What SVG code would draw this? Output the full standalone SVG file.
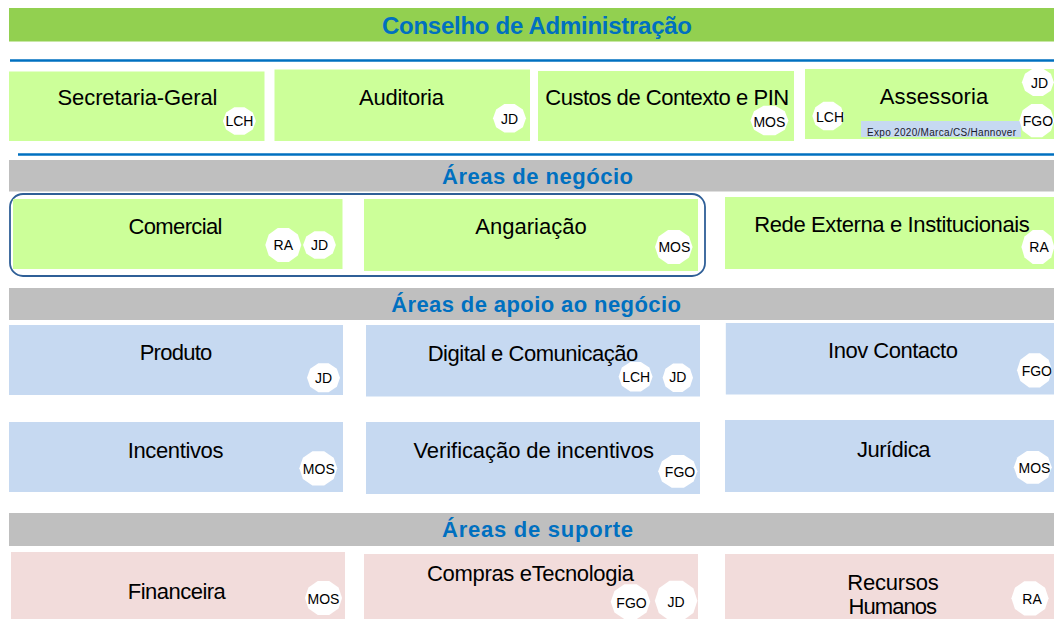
<svg xmlns="http://www.w3.org/2000/svg" xmlns:xlink="http://www.w3.org/1999/xlink" width="1054" height="619" viewBox="0 0 1054 619">
<style>
text{font-family:"Liberation Sans",Arial,sans-serif;text-anchor:middle;fill:#000}
.h{font-weight:bold;fill:#0070c0;font-size:22px}
.n{font-size:22px}
.b{font-size:14px}
.g{fill:#ccff99}.a{fill:#c6d9f1}.p{fill:#f2dcdb}.s{fill:#bfbfbf}
.l{stroke:#0070c0;stroke-width:2.500;fill:none}
</style>
<defs>
<polygon id="o" fill="#fff" points="1,0 .81,.59 .31,.95 -.31,.95 -.81,.59 -1,0 -.81,-.59 -.31,-.95 .31,-.95 .81,-.59"/>
</defs>
<rect width="1054" height="619" fill="#fff"/>
<g id="connectors">
<line class="l" x1="10" y1="60.500" x2="1054" y2="60.500"/>
<line class="l" x1="18" y1="154.500" x2="1054" y2="154.500"/>
</g>
<g id="conselho"><rect x="9" y="8" width="1045" height="33.500" fill="#92d050"/><text class="h" x="537" y="33.500" style="font-size:24px" textLength="310">Conselho de Administração</text></g>
<g id="secretaria"><rect class="g" x="9" y="71.500" width="255.500" height="69.500"/><text class="n" x="137.500" y="104.500" textLength="160">Secretaria-Geral</text><use xlink:href="#o" href="#o" transform="translate(239.400 121) scale(16.500 14.500)"/><text class="b" x="239.400" y="126">LCH</text></g>
<g id="auditoria"><rect class="g" x="274.500" y="69.500" width="255.500" height="71.500"/><text class="n" x="401.500" y="104.500" textLength="85">Auditoria</text><use xlink:href="#o" href="#o" transform="translate(509.500 118.300) scale(16.500 15)"/><text class="b" x="509.500" y="124">JD</text></g>
<g id="custos"><rect class="g" x="538" y="71" width="256" height="70"/><text class="n" x="667.200" y="104.500" textLength="244">Custos de Contexto e PIN</text><use xlink:href="#o" href="#o" transform="translate(769.400 120.500) scale(19 15.500)"/><text class="b" x="769.400" y="126.500">MOS</text></g>
<g id="assessoria"><rect class="g" x="805" y="69" width="249" height="70"/><rect class="a" x="861" y="121" width="160" height="16"/><text class="n" x="934" y="103.500" textLength="108.500">Assessoria</text><text x="941.500" y="136" style="font-size:10px;fill:#1a1a2a" textLength="149">Expo 2020/Marca/CS/Hannover</text><use xlink:href="#o" href="#o" transform="translate(1037.900 82.300) scale(16 14.500)"/><text class="b" x="1039.500" y="87.500">JD</text><use xlink:href="#o" href="#o" transform="translate(1036.800 120.500) scale(17.500 17.500)"/><text class="b" x="1037.900" y="126">FGO</text><use xlink:href="#o" href="#o" transform="translate(828.300 116) scale(16 15)"/><text class="b" x="830" y="122">LCH</text></g>
<g id="h-negocio"><rect class="s" x="9" y="160" width="1045" height="31.500"/><text class="h" x="537.500" y="183.500" textLength="191">Áreas de negócio</text></g>
<g id="grupo"><rect x="10" y="194" width="695" height="82" rx="13" fill="#fff" stroke="#2f5f97" stroke-width="1.800"/></g>
<g id="comercial"><rect class="g" x="13" y="199" width="329.500" height="70"/><text class="n" x="175.500" y="233.500" textLength="94">Comercial</text><use xlink:href="#o" href="#o" transform="translate(283.300 245) scale(18 18)"/><text class="b" x="283.300" y="250.300">RA</text><use xlink:href="#o" href="#o" transform="translate(319.500 245) scale(16.400 14.500)"/><text class="b" x="319.500" y="250.300">JD</text></g>
<g id="angariacao"><rect class="g" x="364" y="199" width="334" height="72"/><text class="n" x="531" y="233.500" textLength="111.500">Angariação</text><use xlink:href="#o" href="#o" transform="translate(673.800 247) scale(18.800 18)"/><text class="b" x="674.400" y="252.300">MOS</text></g>
<g id="rede"><rect class="g" x="725" y="197" width="329" height="72"/><text class="n" x="892" y="231.500" textLength="275.500">Rede Externa e Institucionais</text><use xlink:href="#o" href="#o" transform="translate(1037.900 247) scale(16.500 18)"/><text class="b" x="1039" y="252.300">RA</text></g>
<g id="h-apoio"><rect class="s" x="9" y="288" width="1045" height="32"/><text class="h" x="536" y="312" textLength="289.700">Áreas de apoio ao negócio</text></g>
<g id="produto"><rect class="a" x="9" y="325" width="334" height="70"/><text class="n" x="176" y="359.500" textLength="72.700">Produto</text><use xlink:href="#o" href="#o" transform="translate(323.500 377.700) scale(16.500 15.300)"/><text class="b" x="323.500" y="383">JD</text></g>
<g id="digital"><rect class="a" x="366" y="325" width="334" height="71.500"/><text class="n" x="533" y="360.500" textLength="210.700">Digital e Comunicação</text><use xlink:href="#o" href="#o" transform="translate(635.600 376.700) scale(17 15.500)"/><text class="b" x="636.200" y="382.300">LCH</text><use xlink:href="#o" href="#o" transform="translate(677.800 377.700) scale(15.200 15)"/><text class="b" x="677.800" y="382.300">JD</text></g>
<g id="inov"><rect class="a" x="725.800" y="323" width="328.200" height="71.500"/><text class="n" x="893" y="358" textLength="130">Inov Contacto</text><use xlink:href="#o" href="#o" transform="translate(1034.500 370.300) scale(17.500 18)"/><text class="b" x="1036.800" y="376">FGO</text></g>
<g id="incentivos"><rect class="a" x="9" y="422" width="334" height="70"/><text class="n" x="175.600" y="457.500" textLength="95.700">Incentivos</text><use xlink:href="#o" href="#o" transform="translate(318.300 468.300) scale(19 18)"/><text class="b" x="318.800" y="474">MOS</text></g>
<g id="verificacao"><rect class="a" x="366" y="422" width="334" height="72"/><text class="n" x="533.700" y="458" textLength="240.500">Verificação de incentivos</text><use xlink:href="#o" href="#o" transform="translate(677.800 471.300) scale(19.600 17.200)"/><text class="b" x="680" y="477.300">FGO</text></g>
<g id="juridica"><rect class="a" x="725" y="420" width="329" height="72"/><text class="n" x="893.700" y="456.500" textLength="73.400">Jurídica</text><use xlink:href="#o" href="#o" transform="translate(1032.800 467.300) scale(19 17.200)"/><text class="b" x="1034.500" y="473.300">MOS</text></g>
<g id="h-suporte"><rect class="s" x="9" y="513" width="1045" height="33"/><text class="h" x="537.500" y="537" textLength="191">Áreas de suporte</text></g>
<g id="financeira"><rect class="p" x="11" y="552" width="334" height="67"/><text class="n" x="176.800" y="598.500" textLength="98">Financeira</text><use xlink:href="#o" href="#o" transform="translate(323.500 598) scale(18.600 18)"/><text class="b" x="323.500" y="604">MOS</text></g>
<g id="compras"><rect class="p" x="364" y="554" width="334" height="65"/><text class="n" x="530.500" y="580.500" textLength="207">Compras eTecnologia</text><use xlink:href="#o" href="#o" transform="translate(630.500 601.700) scale(19.800 18.300)"/><text class="b" x="631.500" y="607.500">FGO</text><use xlink:href="#o" href="#o" transform="translate(676.100 600.700) scale(21.300 21)"/><text class="b" x="676.100" y="606.500">JD</text></g>
<g id="rh"><rect class="p" x="725" y="554" width="329" height="65"/><text class="n" x="893" y="590" textLength="91.300">Recursos</text><text class="n" x="892.800" y="613.500" textLength="88.500">Humanos</text><use xlink:href="#o" href="#o" transform="translate(1030 598.300) scale(18.600 18)"/><text class="b" x="1032" y="604">RA</text></g>
</svg>
